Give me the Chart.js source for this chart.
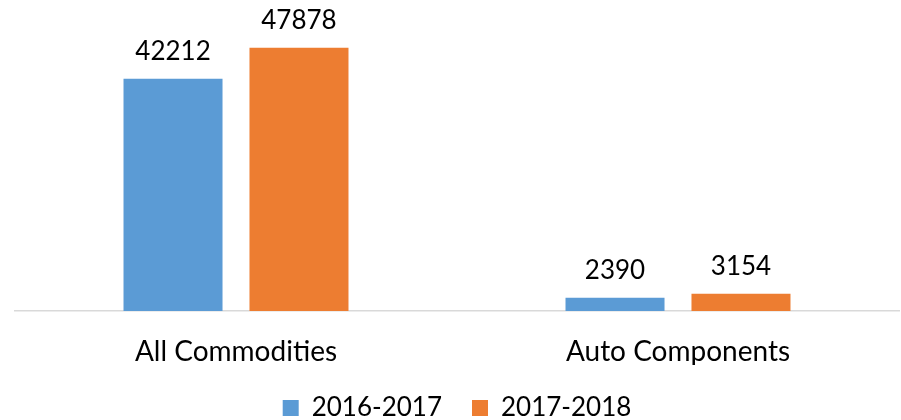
<!DOCTYPE html>
<html>
<head>
<meta charset="utf-8">
<script src="https://cdn.jsdelivr.net/npm/chart.js@4"></script>
<style>
html,body{margin:0;padding:0;background:#fff;}
#wrap{width:901px;height:420px;position:relative;}
</style>
</head>
<body>
<div id="wrap"><canvas id="c"></canvas></div>
<script>
const categories = ["All Commodities", "Auto Components"];
const seriesNames = ["2016-2017", "2017-2018"];
const values2016 = [42212, 2390];
const values2017 = [47878, 3154];
const colors = ["#5B9BD5", "#ED7D31"];

const FONT = "Lato, 'Open Sans', sans-serif";

const valueLabels = {
  id: 'valueLabels',
  afterDatasetsDraw(chart) {
    const ctx = chart.ctx;
    ctx.save();
    ctx.font = "26px " + FONT;
    ctx.fillStyle = "#000";
    ctx.textAlign = "center";
    ctx.textBaseline = "alphabetic";
    chart.data.datasets.forEach((ds, i) => {
      chart.getDatasetMeta(i).data.forEach((bar, j) => {
        ctx.fillText(String(ds.data[j]), bar.x, bar.y - 19);
      });
    });
    ctx.restore();
  }
};

new Chart(document.getElementById('c'), {
  type: 'bar',
  data: {
    labels: categories,
    datasets: [
      { label: seriesNames[0], data: values2016, backgroundColor: colors[0] },
      { label: seriesNames[1], data: values2017, backgroundColor: colors[1] }
    ]
  },
  options: {
    responsive: true,
    maintainAspectRatio: false,
    animation: false,
    devicePixelRatio: 1,
    categoryPercentage: 0.57,
    barPercentage: 0.786,
    layout: { padding: { left: 15, right: 2, top: 36, bottom: 0 } },
    scales: {
      x: {
        grid: { display: false, drawTicks: true, tickLength: 27.7 },
        border: { display: true, color: '#d9d9d9', width: 1.5 },
        ticks: { color: '#000', font: { family: FONT, size: 28, lineHeight: 0.94 }, padding: 0 }
      },
      y: {
        display: false,
        min: 0,
        max: 50000
      }
    },
    plugins: {
      legend: {
        position: 'bottom',
        maxHeight: 55,
        labels: {
          color: '#000',
          font: { family: FONT, size: 26 },
          boxWidth: 16,
          boxHeight: 16,
          padding: 30
        }
      },
      tooltip: { enabled: false }
    }
  },
  plugins: [valueLabels]
});
</script>
</body>
</html>
